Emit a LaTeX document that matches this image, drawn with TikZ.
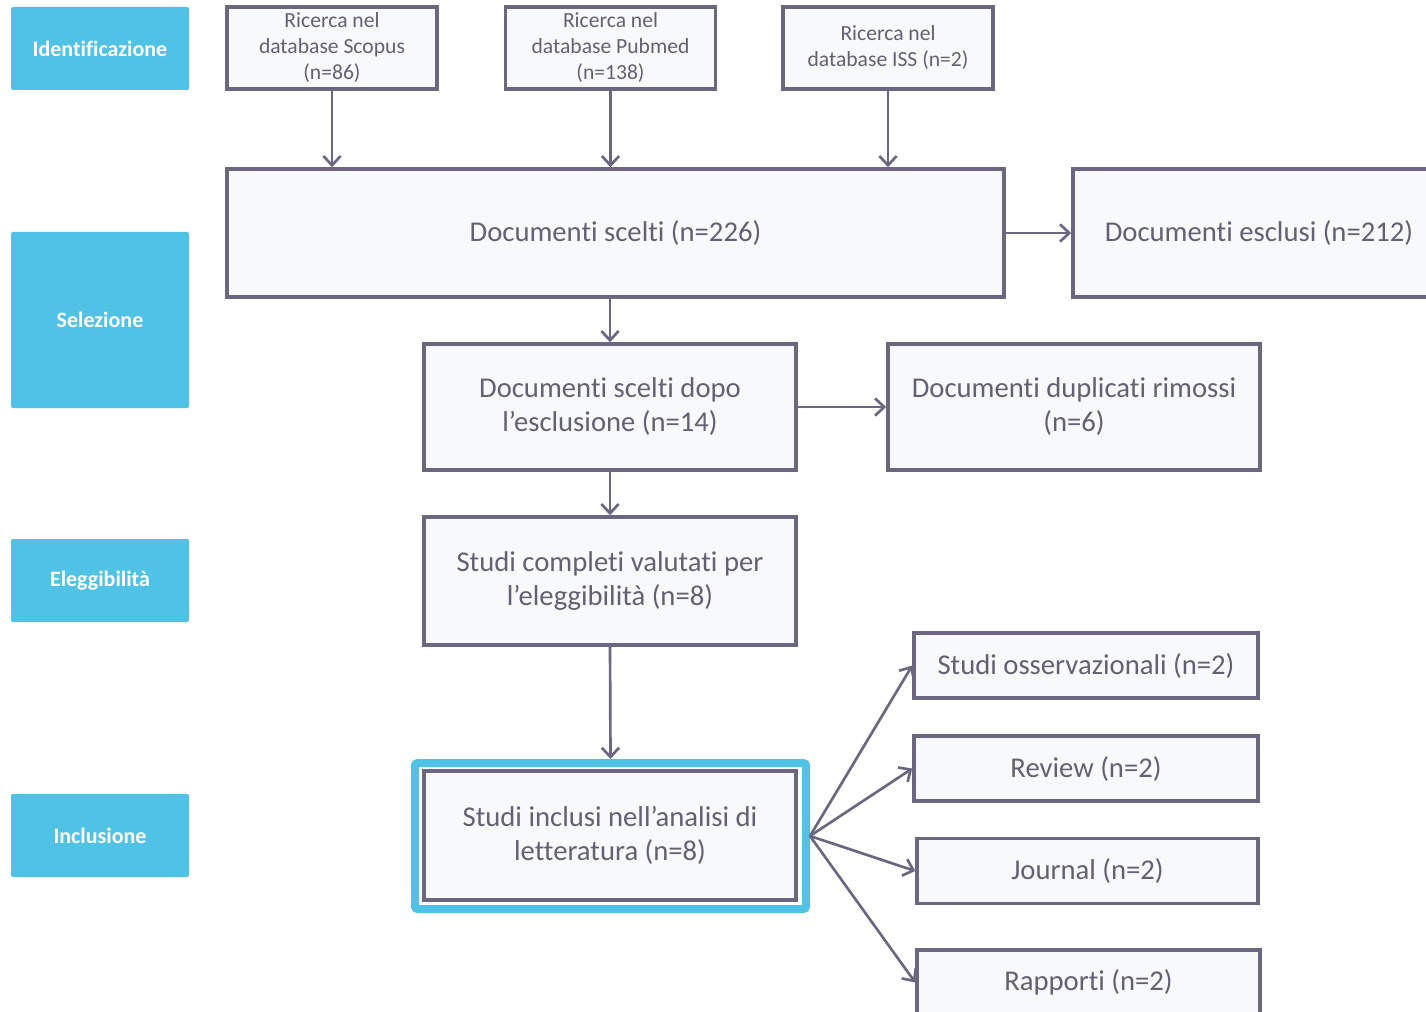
\documentclass[tikz,border=0pt]{standalone}
\usepackage{fontspec}
\setmainfont{Carlito}[RawFeature=-liga, RawFeature=-clig, RawFeature=-rlig, RawFeature=-calt, RawFeature=-dlig, RawFeature=-ccmp]
\usepackage{tikz}
\usetikzlibrary{arrows.meta}
\usepackage{xcolor}
\definecolor{prismaLine}{RGB}{108,102,128}
\definecolor{prismaText}{RGB}{100,96,116}
\definecolor{prismaFill}{RGB}{248,249,252}
\definecolor{prismaCyan}{RGB}{80,194,230}

\begin{document}
\begin{tikzpicture}[x=0.75pt, y=-0.75pt,
    phase/.style={fill=prismaCyan, rounded corners=1.5pt, text=white, font=\fontsize{16.5}{19}\selectfont\bfseries, minimum width=133.5pt, align=center},
    smallbox/.style={draw=prismaLine, line width=2.6pt, fill=prismaFill, text=prismaText, font=\fontsize{16.2}{19.5}\selectfont, minimum width=157.5pt, minimum height=61.5pt, align=center, inner sep=0pt},
    bigbox/.style={draw=prismaLine, line width=2.6pt, fill=prismaFill, text=prismaText, font=\fontsize{21.5}{25.5}\selectfont, minimum height=96pt, align=center, inner sep=0pt},
    typebox/.style={bigbox, minimum height=48.75pt},
    flow/.style={draw=prismaLine, line width=2pt, -{Straight Barb[length=7pt, width=13pt]}}]
    \newcommand\bw{279pt}
    \newcommand\tw{258pt}

    \useasboundingbox (0,0) rectangle (1426,1012);

    % phases on the left
    \node[phase, minimum height=62.25pt] (ident) at (100,48.5) {Identificazione};
    \node[phase, minimum height=132pt] (selez) at (100,320) {Selezione};
    \node[phase, minimum height=62.25pt] (elegg) at (100,580.5) {Eleggibilità};
    \node[phase, minimum height=62.25pt] (inclu) at (100,835.5) {Inclusione};

    % databases
    \node[smallbox] (scopus) at (332,48) {Ricerca nel\\database Scopus\\(n=86)};
    \node[smallbox] (pubmed) at (610.5,48) {Ricerca nel\\database Pubmed\\(n=138)};
    \node[smallbox] (iss) at (888,48) {Ricerca nel\\database ISS (n=2)};

    \node[bigbox, minimum width=582.75pt] (scelti) at (615.5,233) {Documenti scelti (n=226)};
    \node[bigbox, minimum width=\bw] (esclusi) at (1259,233) {Documenti esclusi (n=212)};

    \node[bigbox, minimum width=\bw, minimum height=94.5pt] (dopo) at (610,407) {Documenti scelti dopo\\l’esclusione (n=14)};
    \node[bigbox, minimum width=\bw, minimum height=94.5pt] (dupl) at (1074,407) {Documenti duplicati rimossi\\(n=6)};

    \node[bigbox, minimum width=\bw] (compl) at (610,581) {Studi completi valutati per\\l’eleggibilità (n=8)};

    % included studies, with the cyan frame
    \node[draw=prismaCyan, line width=6pt, rounded corners=2pt, minimum width=293.25pt, minimum height=109.5pt] (frame) at (610.5,836) {};
    \node[bigbox, minimum width=\bw, minimum height=96.75pt] (incl) at (610,835.5) {Studi inclusi nell’analisi di\\letteratura (n=8)};

    % types of study
    \node[typebox, minimum width=\tw] (osserv) at (1086,665.5) {Studi osservazionali (n=2)};
    \node[typebox, minimum width=\tw] (review) at (1086,768.5) {Review (n=2)};
    \node[typebox, minimum width=255.75pt] (journal) at (1087.5,871) {Journal (n=2)};
    \node[typebox, minimum width=257.25pt] (rapp) at (1088.5,982.5) {Rapporti (n=2)};

    % draw arrows
    \draw[flow] (scopus.south) -- (scopus.south |- scelti.north);
    \draw[flow] (pubmed.south) -- (pubmed.south |- scelti.north);
    \draw[flow] (iss.south) -- (iss.south |- scelti.north);
    \draw[flow] (scelti.east) -- (esclusi.west);
    \draw[flow] (dopo.north |- scelti.south) -- (dopo.north);
    \draw[flow] (dopo.east) -- (dupl.west);
    \draw[flow] (dopo.south) -- (compl.north);
    \draw[flow] (compl.south) -- (frame.north);
    \draw[flow] (frame.east) -- (osserv.west);
    \draw[flow] (frame.east) -- (review.west);
    \draw[flow] (frame.east) -- (journal.west);
    \draw[flow] (frame.east) -- (rapp.west);
\end{tikzpicture}
\end{document}
